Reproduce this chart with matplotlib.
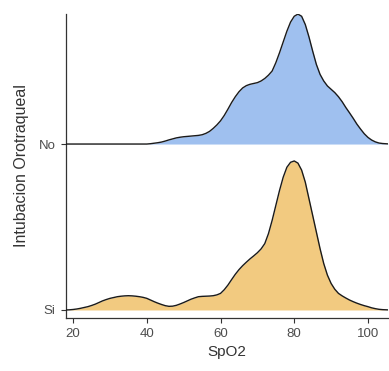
import numpy as np
import matplotlib.pyplot as plt

# valores (densidad escalada de cada grupo)
x_no = [18, 40, 41, 42, 43, 44, 45, 46, 47, 48, 49, 50, 51, 52, 53, 54, 55, 56, 57, 58,
        59, 60, 61, 62, 63, 64, 65, 66, 67, 68, 69, 70, 71, 72, 73, 74, 75, 76, 77, 78,
        79, 80, 81, 82, 83, 84, 85, 86, 87, 88, 89, 90, 91, 92, 93, 94, 95, 96, 97, 98,
        99, 100, 101, 102, 103, 104, 106]
d_no = [0, 0, 0.002, 0.005, 0.008, 0.012, 0.018, 0.025, 0.031, 0.037, 0.041, 0.044,
        0.046, 0.048, 0.05, 0.052, 0.056, 0.064, 0.076, 0.094, 0.115, 0.14, 0.172, 0.21,
        0.25, 0.285, 0.315, 0.338, 0.352, 0.36, 0.365, 0.37, 0.38, 0.395, 0.415, 0.44,
        0.49, 0.55, 0.615, 0.68, 0.735, 0.77, 0.783, 0.77, 0.72, 0.645, 0.56, 0.48, 0.42,
        0.38, 0.35, 0.33, 0.31, 0.285, 0.255, 0.22, 0.188, 0.155, 0.12, 0.09, 0.062,
        0.04, 0.024, 0.013, 0.006, 0.003, 0]

x_si = [18, 19, 20, 21, 22, 23, 24, 25, 26, 27, 28, 29, 30, 31, 32, 33, 34, 35, 36, 37,
        38, 39, 40, 41, 42, 43, 44, 45, 46, 47, 48, 49, 50, 51, 52, 53, 54, 55, 56, 57,
        58, 59, 60, 61, 62, 63, 64, 65, 66, 67, 68, 69, 70, 71, 72, 73, 74, 75, 76, 77,
        78, 79, 80, 81, 82, 83, 84, 85, 86, 87, 88, 89, 90, 91, 92, 93, 94, 95, 96, 97,
        98, 99, 100, 101, 102, 103, 104, 106]
d_si = [0, 0.001, 0.003, 0.006, 0.01, 0.015, 0.02, 0.027, 0.035, 0.045, 0.055, 0.063,
        0.07, 0.075, 0.08, 0.083, 0.085, 0.086, 0.085, 0.083, 0.08, 0.076, 0.07, 0.06,
        0.05, 0.041, 0.033, 0.026, 0.022, 0.023, 0.028, 0.036, 0.045, 0.055, 0.065,
        0.073, 0.08, 0.082, 0.083, 0.084, 0.086, 0.091, 0.1, 0.122, 0.15, 0.183, 0.215,
        0.243, 0.267, 0.288, 0.308, 0.326, 0.345, 0.368, 0.4, 0.46, 0.54, 0.63, 0.72, 0.8,
        0.86, 0.89, 0.898, 0.885, 0.843, 0.77, 0.67, 0.57, 0.47, 0.37, 0.28, 0.21, 0.16,
        0.125, 0.1, 0.085, 0.072, 0.06, 0.05, 0.041, 0.033, 0.026, 0.02, 0.013, 0.008,
        0.004, 0.002, 0]

grupos = ['Si', 'No']
colores = ['#F2CA80', '#9FC0EF']

plt.rcParams['font.family'] = ['Liberation Sans', 'DejaVu Sans']

fig = plt.figure(figsize=(3.89, 3.71), dpi=100)
ax = fig.add_axes([0.170, 0.143, 0.828, 0.819])

series = [(x_si, d_si), (x_no, d_no)]
# se dibuja de arriba hacia abajo para que la cresta de abajo quede encima
for i in [1, 0]:
    xs, ds = series[i]
    base = i + 1
    ys = np.array(ds) + base
    ax.fill_between(xs, base, ys, color=colores[i], lw=0, zorder=2 + (1 - i) * 2)
    ax.plot(xs, ys, color='#1a1a1a', lw=1.0, zorder=3 + (1 - i) * 2)

ax.set_xlim(18.1, 105.5)
ax.set_ylim(0.952, 2.783)
ax.set_xticks([20, 40, 60, 80, 100])
ax.set_yticks([1, 2])
ax.set_yticklabels(grupos)

for s in ['top', 'right']:
    ax.spines[s].set_visible(False)
for s in ['left', 'bottom']:
    ax.spines[s].set_color('#333333')
    ax.spines[s].set_linewidth(0.9)

ax.tick_params(axis='both', colors='#333333', length=3.5, width=0.8,
               labelcolor='#4d4d4d', labelsize=9.5)
ax.tick_params(axis='y', pad=4)
ax.set_xlabel('SpO2', fontsize=11, color='#333333', labelpad=4)
ax.set_ylabel('Intubacion Orotraqueal', fontsize=11.5, color='#333333', labelpad=7)

fig.savefig('out.png', dpi=100)
